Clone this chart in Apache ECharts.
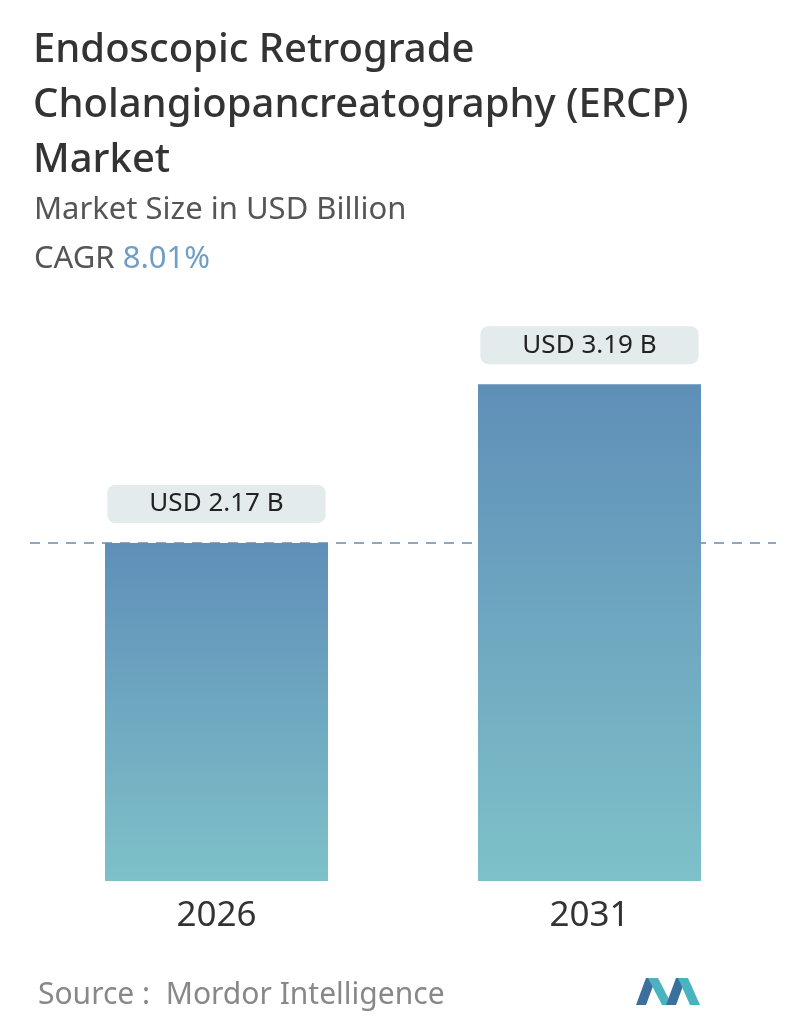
<!DOCTYPE html>
<html>
<head>
<meta charset="utf-8">
<script src="https://cdn.jsdelivr.net/npm/echarts@6/dist/echarts.min.js"></script>
<style>
html,body{margin:0;padding:0;background:#fff;}
#chart{width:796px;height:1034px;}
</style>
</head>
<body>
<div id="chart"></div>
<script>
var years = ['2026', '2031'];
var marketSize = [2.17, 3.19];
var valueLabels = ['USD 2.17 B', 'USD 3.19 B'];

var chart = echarts.init(document.getElementById('chart'));
var font = '"Noto Sans", "Open Sans", sans-serif';

option = {
    backgroundColor: '#fff',
    textStyle: { fontFamily: font },
    title: [
        {
            text: 'Endoscopic Retrograde\nCholangiopancreatography (ERCP)\nMarket',
            left: 28, top: 18,
            textStyle: { fontSize: 40, fontWeight: 500, color: '#333', lineHeight: 55, fontFamily: font }
        },
        {
            text: 'Market Size in USD Billion',
            left: 29, top: 190,
            textStyle: { fontSize: 31, fontWeight: 'normal', color: '#555', fontFamily: font }
        },
        {
            text: 'CAGR {v|8.01%}',
            left: 29, top: 239,
            textStyle: {
                fontSize: 31, fontWeight: 'normal', color: '#555', fontFamily: font,
                rich: { v: { fontSize: 31, color: '#6f9ec6', fontFamily: font } }
            }
        },
        {
            text: 'Source :  Mordor Intelligence',
            left: 33, top: 975,
            textStyle: { fontSize: 30, fontWeight: 'normal', color: '#888', fontFamily: font }
        }
    ],
    grid: { left: 30, right: 20, top: 258, bottom: 153 },
    xAxis: {
        type: 'category',
        data: years,
        axisLine: { show: false },
        axisTick: { show: false },
        axisLabel: { fontSize: 35, color: '#333', margin: 18, fontFamily: font }
    },
    yAxis: {
        type: 'value', min: 0, max: 4,
        show: false, splitLine: { show: false }
    },
    series: [{
        type: 'bar',
        data: marketSize,
        barWidth: 223,
        itemStyle: {
            color: new echarts.graphic.LinearGradient(0, 0, 0, 1, [
                { offset: 0, color: '#5f8fb8' },
                { offset: 1, color: '#7ec1c9' }
            ])
        },
        label: {
            show: true,
            position: 'top',
            distance: 20,
            formatter: function (p) { return valueLabels[p.dataIndex]; },
            fontSize: 26,
            color: '#222',
            backgroundColor: '#e4ebed',
            borderRadius: 8,
            padding: [6, 42, 6, 42],
            fontFamily: font
        },
        markLine: {
            silent: true,
            symbol: 'none',
            label: { show: false },
            lineStyle: { color: '#6b8ca8', type: [10, 8], width: 1.5 },
            data: [{ yAxis: marketSize[0] }],
            z: 0
        }
    }],
    graphic: [
        { type: 'polygon', shape: { points: [[636, 1005], [646, 978], [656, 978], [646, 1005]] }, style: { fill: '#3a6f9e' } },
        { type: 'polygon', shape: { points: [[648, 978], [658, 978], [672, 1005], [662, 1005]] }, style: { fill: '#49b3c0' } },
        { type: 'polygon', shape: { points: [[666, 1005], [676, 978], [686, 978], [676, 1005]] }, style: { fill: '#3a6f9e' } },
        { type: 'polygon', shape: { points: [[678, 978], [688, 978], [700, 1005], [690, 1005]] }, style: { fill: '#49b3c0' } }
    ]
};
chart.setOption(option);
</script>
</body>
</html>
